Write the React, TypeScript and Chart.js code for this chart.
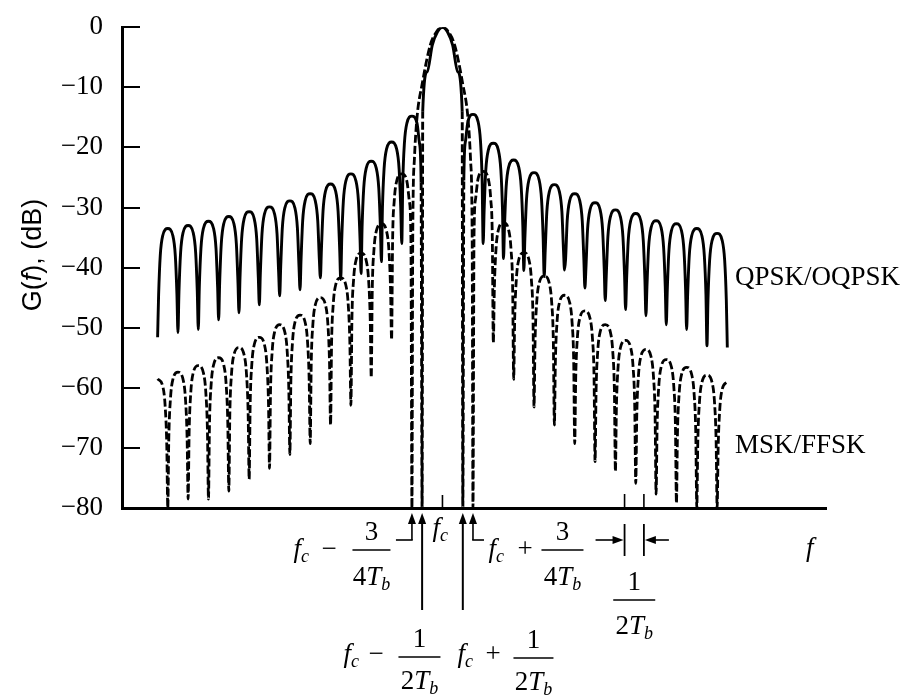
import { useEffect, useRef } from "react";
import { Chart, registerables } from "chart.js";

Chart.register(...registerables);

const SERIF = "'Liberation Serif', 'Times New Roman', Times, serif";
const SANS = "'Liberation Sans', Arial, Helvetica, sans-serif";

// Frequency offset from the carrier in units of 1/(2Tb): u = (f - fc)·2Tb
const X_MIN = -15.75;
const X_MAX = 18.85;

// Power spectral density axis, dB
const Y_TICKS = [0, -10, -20, -30, -40, -50, -60, -70, -80];

// QPSK/OQPSK main lobe (one half, symmetric about fc)
const QPSK_PEAK_DB = 0;
const QPSK_MAIN_U = [0.25, 0.5, 0.75, 0.97];
const QPSK_MAIN_DB = [-0.8, -3.0, -7.4, -14.0];

// QPSK/OQPSK nulls at multiples of 1/(2Tb) and the sidelobe peaks between them
const QPSK_NULL_U = [1, 2, 3, 4, 5, 6, 7, 8, 9, 10, 11, 12, 13, 14];
const QPSK_NULL_DB_LOWER = [-80, -36, -39, -41, -42, -41.7, -43.7, -44.7, -46.2, -47.5, -48.7, -50.3, -50.8, -51.6];
const QPSK_NULL_DB_UPPER = [-80, -36, -38.5, -40.5, -41.5, -40.4, -43.4, -45.5, -47.0, -48.0, -49.5, -50.3, -53.0, -53.3];
const QPSK_PEAK_DB_LOWER = [-14.8, -19.1, -22.3, -24.4, -26.1, -27.7, -28.9, -29.9, -30.7, -31.5, -32.3, -33.0, -33.5];
const QPSK_PEAK_DB_UPPER = [-14.5, -19.3, -22.1, -24.2, -26.2, -27.7, -29.2, -30.4, -31.0, -32.2, -32.7, -33.5, -34.3];

// MSK/FFSK main lobe (one half)
const MSK_PEAK_DB = 0;
const MSK_MAIN_U = [0.3, 0.6, 1.0, 1.25, 1.38, 1.46];
const MSK_MAIN_DB = [-0.8, -3.0, -9.5, -15.0, -22.0, -35.0];

// MSK/FFSK nulls (first at 3/(4Tb)) and sidelobe peaks
const MSK_NULL_U = [1.5, 2.5, 3.5, 4.5, 5.5, 6.5, 7.5, 8.5, 9.5, 10.5, 11.5, 12.5, 13.5];
const MSK_NULL_DB_LOWER = [-80, -52.0, -58.3, -62.9, -66.2, -69.3, -71.1, -73.4, -75.2, -77.2, -78.5, -78.5, -80];
const MSK_NULL_DB_UPPER = [-80, -52.5, -58.6, -63.2, -66.2, -69.3, -72.3, -73.9, -75.9, -77.7, -79.2, -80, -80];
const MSK_PEAK_DB_LOWER = [-24.4, -32.7, -37.6, -41.7, -45.0, -47.9, -49.5, -51.6, -53.3, -55.0, -56.3, -57.4];
const MSK_PEAK_DB_UPPER = [-24.0, -32.5, -37.5, -41.4, -44.6, -47.2, -49.5, -52.1, -53.6, -55.3, -56.6, -57.9];
const MSK_EDGE_DB_LOWER = -58.5;
const MSK_EDGE_DB_UPPER = -59.0;

// Rounded outline of one sidelobe, relative to its centre and its peak
const LOBE_DU = [-0.45, -0.37, -0.25, 0, 0.25, 0.37, 0.45];
const LOBE_DDB = [-11, -4.5, -1.2, 0, -1.2, -4.5, -11];

// Markers along the frequency axis
const MARK_FC = 0;
const MARK_HALF = 1; // 1/(2Tb)
const MARK_THREE_QUARTER = 1.5; // 3/(4Tb)
const SPACING_MARKS = [8.95, 9.9];

type Pt = { x: number; y: number };

function lobe(center: number, peak: number): Pt[] {
  return LOBE_DU.map((du, i) => ({ x: center + du, y: peak + LOBE_DDB[i] }));
}

// One side of the spectrum, from the first null outwards
function sideLobes(nullU: number[], nullDb: number[], peakDb: number[], edgeDb?: number): Pt[] {
  const pts: Pt[] = [];
  for (let i = 0; i < nullU.length; i++) {
    pts.push({ x: nullU[i], y: nullDb[i] });
    if (i < peakDb.length) pts.push(...lobe((nullU[i] + nullU[i + 1]) / 2, peakDb[i]));
  }
  if (edgeDb !== undefined) {
    const c = nullU[nullU.length - 1] + 0.5;
    pts.push(...lobe(c, edgeDb).filter((p) => p.x <= c));
  }
  return pts;
}

function spectrum(mainU: number[], mainDb: number[], peak: number, lower: Pt[], upper: Pt[]): Pt[] {
  const left = lower.map((p) => ({ x: -p.x, y: p.y })).reverse();
  const mainLeft = mainU.map((u, i) => ({ x: -u, y: mainDb[i] })).reverse();
  const mainRight = mainU.map((u, i) => ({ x: u, y: mainDb[i] }));
  return [...left, ...mainLeft, { x: 0, y: peak }, ...mainRight, ...upper];
}

const qpskPoints = spectrum(
  QPSK_MAIN_U,
  QPSK_MAIN_DB,
  QPSK_PEAK_DB,
  sideLobes(QPSK_NULL_U, QPSK_NULL_DB_LOWER, QPSK_PEAK_DB_LOWER),
  sideLobes(QPSK_NULL_U, QPSK_NULL_DB_UPPER, QPSK_PEAK_DB_UPPER)
);

const mskPoints = spectrum(
  MSK_MAIN_U,
  MSK_MAIN_DB,
  MSK_PEAK_DB,
  sideLobes(MSK_NULL_U, MSK_NULL_DB_LOWER, MSK_PEAK_DB_LOWER, MSK_EDGE_DB_LOWER),
  sideLobes(MSK_NULL_U, MSK_NULL_DB_UPPER, MSK_PEAK_DB_UPPER, MSK_EDGE_DB_UPPER)
);

// ---- text helpers -------------------------------------------------------
type Run = { t: string; f: string; dy?: number };
const IT = `italic 27px ${SERIF}`;
const UP = `27px ${SERIF}`;
const SUB = `italic 18px ${SERIF}`;
const F_C: Run[] = [{ t: "f", f: IT }, { t: "c", f: SUB, dy: 5 }];
const T_B: Run[] = [{ t: "T", f: IT }, { t: "b", f: SUB, dy: 5 }];

function runsWidth(ctx: CanvasRenderingContext2D, runs: Run[]) {
  let w = 0;
  for (const r of runs) {
    ctx.font = r.f;
    w += ctx.measureText(r.t).width;
  }
  return w;
}

function drawRuns(ctx: CanvasRenderingContext2D, runs: Run[], x: number, y: number) {
  let cx = x;
  for (const r of runs) {
    ctx.font = r.f;
    ctx.fillText(r.t, cx, y + (r.dy || 0));
    cx += ctx.measureText(r.t).width;
  }
  return cx;
}

function drawCentered(ctx: CanvasRenderingContext2D, runs: Run[], cx: number, y: number) {
  drawRuns(ctx, runs, cx - runsWidth(ctx, runs) / 2, y);
}

function line(ctx: CanvasRenderingContext2D, x1: number, y1: number, x2: number, y2: number, w: number) {
  ctx.lineWidth = w;
  ctx.beginPath();
  ctx.moveTo(x1, y1);
  ctx.lineTo(x2, y2);
  ctx.stroke();
}

function fraction(ctx: CanvasRenderingContext2D, cx: number, barY: number, halfW: number, num: Run[], den: Run[], drop: number) {
  drawCentered(ctx, num, cx, barY - 10);
  line(ctx, cx - halfW, barY, cx + halfW, barY, 1.6);
  drawCentered(ctx, den, cx, barY + drop);
}

function arrowHead(ctx: CanvasRenderingContext2D, x: number, y: number, dir: "up" | "left" | "right") {
  ctx.beginPath();
  if (dir === "up") {
    ctx.moveTo(x, y);
    ctx.lineTo(x - 4, y + 11);
    ctx.lineTo(x + 4, y + 11);
  } else if (dir === "right") {
    ctx.moveTo(x, y);
    ctx.lineTo(x - 11, y - 4);
    ctx.lineTo(x - 11, y + 4);
  } else {
    ctx.moveTo(x, y);
    ctx.lineTo(x + 11, y - 4);
    ctx.lineTo(x + 11, y + 4);
  }
  ctx.closePath();
  ctx.fill();
}

const annotationPlugin = {
  id: "spectrumAnnotations",
  afterDraw(chart: any) {
    const { ctx, chartArea, scales } = chart;
    const xs = scales.x;
    const ys = scales.y;
    const px = (u: number) => xs.getPixelForValue(u);
    const axisY = chartArea.bottom;
    const c0 = px(MARK_FC);

    ctx.save();
    ctx.strokeStyle = "#000";
    ctx.fillStyle = "#000";
    ctx.textAlign = "left";
    ctx.textBaseline = "alphabetic";
    ctx.lineCap = "butt";

    // inward tick marks on the dB axis
    for (const v of Y_TICKS) {
      if (v === -80) continue;
      const y = Math.round(ys.getPixelForValue(v));
      line(ctx, chartArea.left, y, chartArea.left + 18, y, 2);
    }

    // vertical axis title: G(f), (dB)
    ctx.save();
    ctx.translate(32, 255);
    ctx.rotate(-Math.PI / 2);
    const title: Run[] = [
      { t: "G(", f: `27px ${SANS}` },
      { t: "f", f: `italic 27px ${SANS}` },
      { t: "), (dB)", f: `27px ${SANS}` },
    ];
    drawCentered(ctx, title, 0, 9);
    ctx.restore();

    // series names
    ctx.font = UP;
    ctx.fillText("QPSK/OQPSK", 735, 285);
    ctx.fillText("MSK/FFSK", 735, 453);

    // frequency axis name
    drawRuns(ctx, [{ t: "f", f: IT }], 806, 556);

    // carrier tick and label
    line(ctx, c0, axisY - 13, c0, axisY, 1.6);
    drawRuns(ctx, F_C, c0 - 10, 536);

    // arrows to the first nulls
    const xa = px(-MARK_THREE_QUARTER);
    const xb = px(-MARK_HALF);
    const xc = px(MARK_HALF);
    const xd = px(MARK_THREE_QUARTER);
    const tip = axisY + 5;
    for (const x of [xa, xb, xc, xd]) arrowHead(ctx, x, tip, "up");
    line(ctx, xb, tip + 8, xb, 610, 2);
    line(ctx, xc, tip + 8, xc, 610, 2);
    line(ctx, xa, tip + 8, xa, 540, 1.6);
    line(ctx, xa + 0.8, 540, xa - 16, 540, 1.6);
    line(ctx, xd, tip + 8, xd, 540, 1.6);
    line(ctx, xd - 0.8, 540, xd + 11, 540, 1.6);

    const num3: Run[] = [{ t: "3", f: UP }];
    const num1: Run[] = [{ t: "1", f: UP }];
    const den4: Run[] = [{ t: "4", f: UP }, ...T_B];
    const den2: Run[] = [{ t: "2", f: UP }, ...T_B];

    // fc − 3/(4Tb)
    drawRuns(ctx, F_C, c0 - 149, 557);
    drawRuns(ctx, [{ t: "\u2212", f: UP }], c0 - 121, 557);
    fraction(ctx, c0 - 71, 550, 19, num3, den4, 35);

    // fc + 3/(4Tb)
    drawRuns(ctx, F_C, c0 + 46, 557);
    drawRuns(ctx, [{ t: "+", f: UP }], c0 + 75, 557);
    fraction(ctx, c0 + 120, 550, 21, num3, den4, 35);

    // fc − 1/(2Tb)
    drawRuns(ctx, F_C, c0 - 99, 662);
    drawRuns(ctx, [{ t: "\u2212", f: UP }], c0 - 74, 662);
    fraction(ctx, c0 - 23, 657, 21, num1, den2, 32);

    // fc + 1/(2Tb)
    drawRuns(ctx, F_C, c0 + 15, 662);
    drawRuns(ctx, [{ t: "+", f: UP }], c0 + 43, 662);
    fraction(ctx, c0 + 91, 658, 20, num1, den2, 32);

    // sidelobe spacing 1/(2Tb)
    const s1 = px(SPACING_MARKS[0]);
    const s2 = px(SPACING_MARKS[1]);
    line(ctx, s1, axisY - 14, s1, axisY, 1.6);
    line(ctx, s2, axisY - 14, s2, axisY, 1.6);
    line(ctx, s1, 524, s1, 556, 1.8);
    line(ctx, s2, 524, s2, 556, 1.8);
    line(ctx, s1 - 29, 540, s1 - 8, 540, 1.6);
    arrowHead(ctx, s1 - 1, 540, "right");
    line(ctx, s2 + 25, 540, s2 + 8, 540, 1.6);
    arrowHead(ctx, s2 + 1, 540, "left");
    fraction(ctx, (s1 + s2) / 2, 600, 21, num1, den2, 34);

    ctx.restore();
  },
};

export default function App() {
  const canvasRef = useRef<HTMLCanvasElement | null>(null);

  useEffect(() => {
    const canvas = canvasRef.current;
    if (!canvas) return;
    const mainLobeWall = (ctx: any) => {
      const a = Math.abs(ctx.p0.parsed.x);
      const b = Math.abs(ctx.p1.parsed.x);
      return a >= 0.96 && a <= 1.06 && b >= 0.96 && b <= 1.06 ? [8, 3] : undefined;
    };
    const chart = new Chart(canvas, {
      type: "line",
      data: {
        datasets: [
          {
            label: "QPSK/OQPSK",
            data: qpskPoints,
            borderColor: "#000",
            borderWidth: 2.9,
            pointRadius: 0,
            cubicInterpolationMode: "monotone",
            borderJoinStyle: "round",
            segment: { borderDash: mainLobeWall },
          },
          {
            label: "MSK/FFSK",
            data: mskPoints,
            borderColor: "#000",
            borderWidth: 2.8,
            borderDash: [8, 3],
            pointRadius: 0,
            cubicInterpolationMode: "monotone",
          },
        ],
      },
      options: {
        animation: false,
        responsive: false,
        maintainAspectRatio: false,
        layout: { padding: { left: 0, top: 22, right: 78, bottom: 187 } },
        plugins: { legend: { display: false }, tooltip: { enabled: false } },
        elements: { point: { radius: 0 } },
        scales: {
          x: {
            type: "linear",
            min: X_MIN,
            max: X_MAX,
            ticks: { display: false },
            grid: { display: false },
            border: { display: true, color: "#000", width: 3 },
            afterFit: (s: any) => {
              s.height = 0;
            },
          },
          y: {
            type: "linear",
            min: -80,
            max: 0,
            afterBuildTicks: (s: any) => {
              s.ticks = Y_TICKS.map((v) => ({ value: v }));
            },
            ticks: {
              color: "#000",
              padding: 11,
              font: { family: SERIF, size: 27 },
              callback: (v: any) => (Number(v) < 0 ? "\u2212" + Math.abs(Number(v)) : String(v)),
            },
            grid: { display: false },
            border: { display: true, color: "#000", width: 3 },
            afterFit: (s: any) => {
              s.width = 122;
            },
          },
        },
      } as any,
      plugins: [annotationPlugin],
    });
    return () => chart.destroy();
  }, []);

  return (
    <div style={{ position: "absolute", left: 0, top: 0, width: 904, height: 695, background: "#fff" }}>
      <canvas ref={canvasRef} width={904} height={695} style={{ display: "block" }} />
    </div>
  );
}
